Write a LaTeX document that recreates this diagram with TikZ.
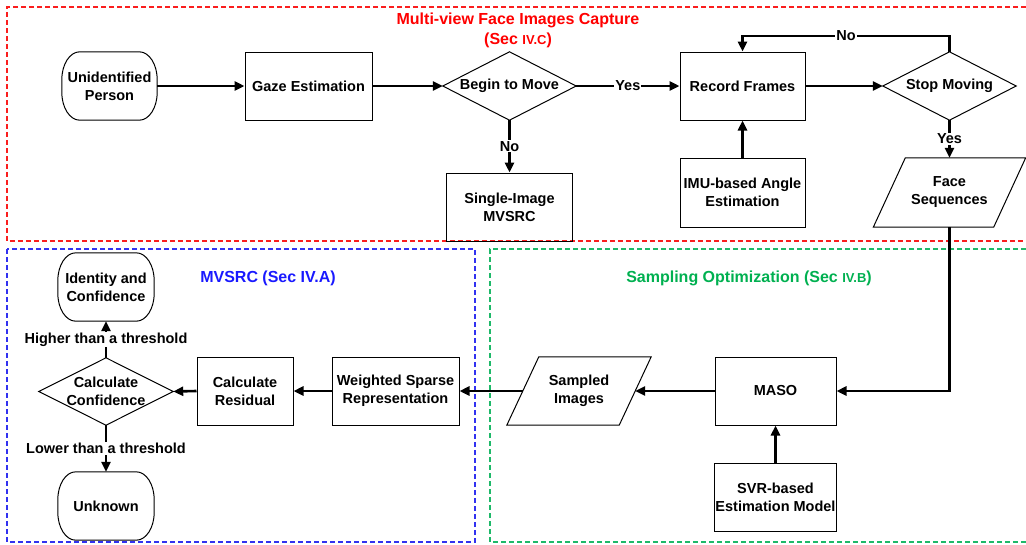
\documentclass[tikz,border=0pt]{standalone}
\usepackage{fontspec}
\setmainfont{Liberation Sans}
\usetikzlibrary{arrows.meta,calc}
\definecolor{tred}{RGB}{255,0,0}
\definecolor{tblue}{RGB}{25,25,255}
\definecolor{tgreen}{RGB}{0,176,80}
\definecolor{dred}{RGB}{250,30,30}
\definecolor{dblue}{RGB}{50,50,240}
\definecolor{dgreen}{RGB}{30,185,105}
\newcommand\termoutline[1]{%
  \draw[outline] ($(#1.north west)+(18,0)$) -- ($(#1.north east)+(-18,0)$)
    .. controls +(10,0) and +(0,-15.5) .. ($(#1.north east)+(0,28)$)
    -- ($(#1.south east)+(0,-28)$)
    .. controls +(0,15.5) and +(10,0) .. ($(#1.south east)+(-18,0)$)
    -- ($(#1.south west)+(18,0)$)
    .. controls +(-10,0) and +(0,15.5) .. ($(#1.south west)+(0,-28)$)
    -- ($(#1.north west)+(0,28)$)
    .. controls +(0,-15.5) and +(-10,0) .. ($(#1.north west)+(18,0)$) -- cycle;}
\newcommand\diamondoutline[1]{%
  \draw[outline] (#1.west) -- (#1.north) -- (#1.east) -- (#1.south) -- cycle;}
\newcommand\paraoutline[1]{%
  \draw[outline] ($(#1.north west)+(16,0)$) -- ($(#1.north east)+(16,0)$)
    -- ($(#1.south east)+(-16,0)$) -- ($(#1.south west)+(-16,0)$) -- cycle;}
\begin{document}
\begin{tikzpicture}[x=1pt,y=-1pt,
  every node/.style={font=\fontsize{14.5}{18}\selectfont\bfseries, align=center, inner sep=1pt},
  procbox/.style={draw, line width=1pt, minimum height=68pt},
  shapebox/.style={minimum height=68pt},
  outline/.style={line width=1pt},
  arr/.style={line width=2.6pt, -{Triangle[length=10pt,width=9pt]}},
  lbl/.style={fill=white, inner sep=1pt},
  frame/.style={line width=1.2pt, dash pattern=on 5pt off 3pt},
  sectitle/.style={font=\fontsize{16}{20}\selectfont\bfseries}]
\useasboundingbox (0,0) rectangle (1026,544);

% section frames
\draw[frame, dred] (1026,7) -- (7,7) -- (7,241) -- (1026,241);
\draw[frame, dblue] (7,249) rectangle (475,542);
\draw[frame, dgreen] (1026,249) -- (490,249) -- (490,542) -- (1026,542);

\node[sectitle, text=tred] (ttop) at (518,30) {Multi-view Face Images Capture\\(Sec {\fontsize{13}{20}\selectfont IV.C})};
\node[sectitle, text=tblue] (tleft) at (268,278) {MVSRC (Sec IV.A)};
\node[sectitle, text=tgreen] (tright) at (749,278) {Sampling Optimization (Sec {\fontsize{13}{20}\selectfont IV.B})};

% top row
\node[shapebox, minimum width=95pt] (up) at (109.5,86) {Unidentified\\Person};
\termoutline{up}
\node[procbox, minimum width=127pt] (gaze) at (308.5,86) {Gaze Estimation};
\node[shapebox, minimum width=133pt] (begin) at (509.5,86) {Begin to Move};
\diamondoutline{begin}
\node[procbox, minimum width=126pt] (single) at (509.5,207) {Single-Image\\MVSRC};
\node[procbox, minimum width=125pt] (record) at (742.5,86) {Record Frames};
\node[procbox, minimum width=125pt, minimum height=69pt] (imu) at (742.5,192.5) {IMU-based Angle\\Estimation};
\node[shapebox, minimum width=133pt] (stop) at (949.5,86) {Stop Moving};
\diamondoutline{stop}
\node[shapebox, minimum width=120pt, minimum height=69pt] (face) at (949.5,192.5) {Face\\Sequences};
\paraoutline{face}

% sampling
\node[procbox, minimum width=121pt] (maso) at (775.5,391) {MASO};
\node[procbox, minimum width=121pt] (svr) at (775.5,497) {SVR-based\\Estimation Model};
\node[shapebox, minimum width=112pt] (sampled) at (579,391) {Sampled\\Images};
\paraoutline{sampled}

% MVSRC
\node[procbox, minimum width=127pt] (wsr) at (395.5,391) {Weighted Sparse\\Representation};
\node[procbox, minimum width=96pt] (resid) at (245,391) {Calculate\\Residual};
\node[shapebox, minimum width=134pt, minimum height=67pt] (conf) at (106,391.5) {Calculate\\Confidence};
\diamondoutline{conf}
\node[shapebox, minimum width=96pt] (ident) at (106,287) {Identity and\\Confidence};
\termoutline{ident}
\node[shapebox, minimum width=96pt] (unk) at (106,506) {Unknown};
\termoutline{unk}

% connectors
\coordinate (loopR) at (949.5,36);
\draw[arr] (up.east) -- (gaze.west);
\draw[arr] (gaze.east) -- (begin.west);
\draw[arr] (begin.east) -- node[lbl]{Yes} (record.west);
\draw[arr] (begin.south) -- node[lbl]{No} (single.north);
\draw[arr] (imu.north) -- (record.south);
\draw[arr] (record.east) -- (stop.west);
\draw[arr] (stop.north) -- (loopR) -| node[lbl, pos=0.25]{No} (record.north);
\draw[arr] (stop.south) -- node[lbl]{Yes} (face.north);
\draw[arr] (face.south) |- (maso.east);
\draw[arr] (svr.north) -- (maso.south);
\draw[arr] (maso.west) -- (sampled.east);
\draw[arr] (sampled.west) -- (wsr.east);
\draw[arr] (wsr.west) -- (resid.east);
\draw[arr] (resid.west) -- (conf.east);
\draw[arr] (conf.north) -- node[lbl]{Higher than a threshold} (ident.south);
\draw[arr] (conf.south) -- node[lbl]{Lower than a threshold} (unk.north);
\end{tikzpicture}
\end{document}
